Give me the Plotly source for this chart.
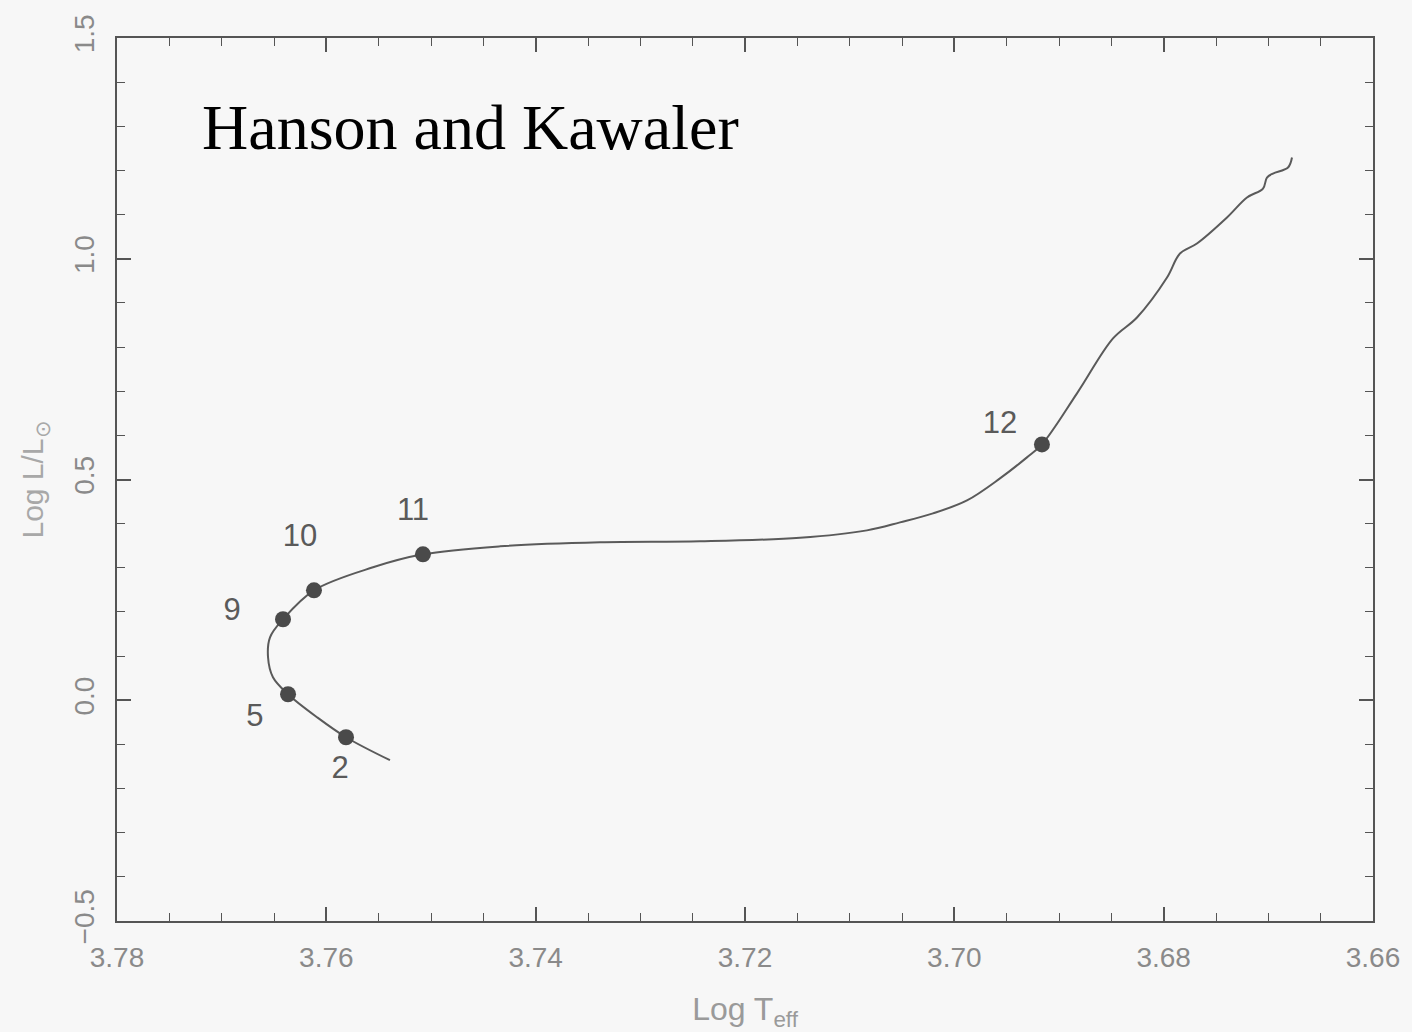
import plotly.graph_objects as go

# Evolutionary track (Log Teff, Log L/Lsun)
track_logT = [3.75392, 3.75812, 3.76089, 3.76366, 3.76510, 3.76557, 3.76538, 3.76414,
              3.76118, 3.75554, 3.75077, 3.74341, 3.73385, 3.72430, 3.71475, 3.70835,
              3.70519, 3.70204, 3.69879, 3.69564, 3.69306, 3.69163, 3.68828, 3.68484,
              3.68255, 3.67968, 3.67844, 3.67682, 3.67395, 3.67204, 3.67051, 3.67013,
              3.66956, 3.66812, 3.66774]
track_logL = [-0.1358, -0.0838, -0.0385, 0.0136, 0.0521, 0.0973, 0.1426, 0.1834,
              0.2490, 0.3011, 0.3305, 0.3486, 0.3577, 0.3599, 0.3680, 0.3848,
              0.4029, 0.4233, 0.4527, 0.5025, 0.5501, 0.5795, 0.6950, 0.8195,
              0.8670, 0.9576, 1.0119, 1.0345, 1.0934, 1.1387, 1.1590, 1.1839,
              1.1930, 1.2066, 1.2292]

# Marked stages
stage_labels = ["2", "5", "9", "10", "11", "12"]
stage_logT = [3.75812, 3.76366, 3.76414, 3.76118, 3.75077, 3.69163]
stage_logL = [-0.0838, 0.0136, 0.1834, 0.2490, 0.3305, 0.5795]
label_logT = [3.75869, 3.76682, 3.76901, 3.76252, 3.75172, 3.69564]
label_logL = [-0.1585, -0.0407, 0.1992, 0.3667, 0.4256, 0.6225]

x_ticks = [3.78, 3.76, 3.74, 3.72, 3.70, 3.68, 3.66]
x_ticktext = ["3.78", "3.76", "3.74", "3.72", "3.70", "3.68", "3.66"]
y_ticks = [-0.5, 0.0, 0.5, 1.0, 1.5]
y_ticktext = ["\u22120.5", "0.0", "0.5", "1.0", "1.5"]

title_text = "Hanson and Kawaler"

bg = "#f7f7f7"
frame = "#555555"
sans = "Liberation Sans, Arial, sans-serif"

fig = go.Figure()
fig.add_trace(go.Scatter(
    x=track_logT, y=track_logL, mode="lines",
    line=dict(color="#5a5a5a", width=2, shape="spline", smoothing=1.0),
    hoverinfo="skip", showlegend=False))
fig.add_trace(go.Scatter(
    x=stage_logT, y=stage_logL, mode="markers",
    marker=dict(color="#4a4a4a", size=16, line=dict(width=0)),
    showlegend=False))
fig.add_trace(go.Scatter(
    x=label_logT, y=label_logL, mode="text", text=stage_labels,
    textfont=dict(family=sans, size=31, color="#5a5a5a"),
    textposition="middle center", showlegend=False, hoverinfo="skip"))

fig.add_annotation(
    text=title_text, xref="paper", yref="paper", x=0.0661, y=0.8987,
    xanchor="left", yanchor="middle", showarrow=False,
    font=dict(family="Liberation Serif, Times New Roman, serif", size=64, color="#000000"))

axis_common = dict(
    showgrid=False, zeroline=False, showline=True, linecolor=frame, linewidth=2,
    mirror="ticks", ticks="inside", tickcolor=frame, tickwidth=1.5,
    tickfont=dict(family=sans, size=28, color="#8a8a8a"),
    ticklabelstandoff=10, automargin=False,
)

fig.update_xaxes(
    range=[3.78, 3.66], tickvals=x_ticks, ticktext=x_ticktext, ticklen=14,
    minor=dict(dtick=0.005, ticks="inside", ticklen=8, tickcolor=frame, tickwidth=1.2, showgrid=False),
    title=dict(text="Log T<sub>eff</sub>", font=dict(family=sans, size=32, color="#9a9a9a"), standoff=28),
    **axis_common)
fig.update_yaxes(
    range=[-0.5, 1.5], tickvals=y_ticks, ticktext=y_ticktext, ticklen=14, tickangle=-90,
    minor=dict(dtick=0.1, ticks="inside", ticklen=8, tickcolor=frame, tickwidth=1.2, showgrid=False),
    title=dict(text="Log L/L<sub>\u2299</sub>", font=dict(family=sans, size=30, color="#a8a8a8"), standoff=16),
    **axis_common)

fig.update_layout(
    width=1412, height=1032,
    margin=dict(l=117, r=39, t=38, b=111),
    paper_bgcolor=bg, plot_bgcolor=bg,
    showlegend=False,
)

fig.write_html("out.html")
